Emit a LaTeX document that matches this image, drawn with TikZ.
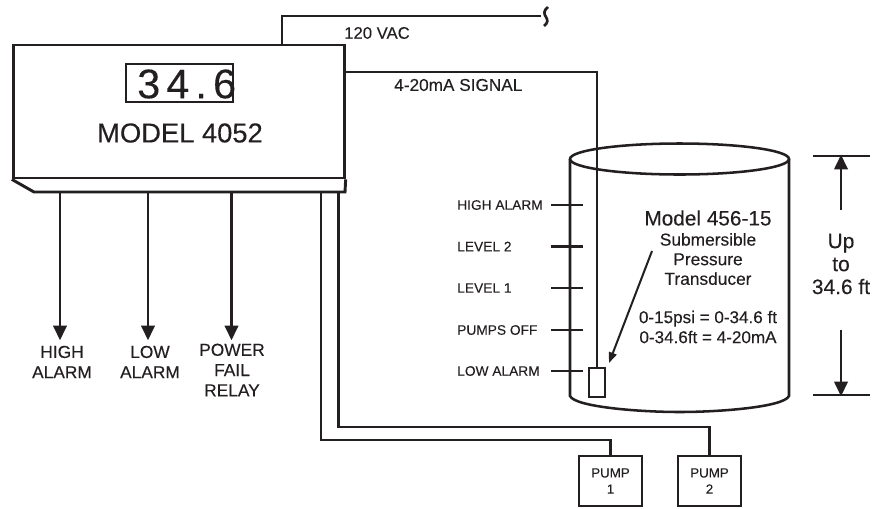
\documentclass[tikz,border=0pt]{standalone}
\usepackage{fontspec}
\setmainfont[FakeBold=0.2]{Liberation Sans}
\usetikzlibrary{arrows.meta}
\definecolor{ink}{HTML}{231F20}
\tikzset{
 wire/.style={ink,line width=1.9pt},
 heavy/.style={ink,line width=2.2pt},
 arrowed/.style={ink,line width=1.9pt,-{Triangle[length=11pt,width=10pt]},shorten >=-1pt},
 block/.style={draw=ink,line width=2.1pt,inner sep=0pt},
 lab/.style={ink,inner sep=0pt,align=center},
 small/.style={lab,font=\fontsize{10.3}{12}\selectfont},
 relay/.style={lab,font=\fontsize{13}{15.2}\selectfont},
}
\begin{document}
\begin{tikzpicture}[x=0.75pt,y=-0.75pt]
 \useasboundingbox (0,0) rectangle (873,508);
 % power and signal lines (behind the box)
 \coordinate (breakend) at (541,16);
 \node[block,minimum width=248.25pt,minimum height=99.75pt] (box) at (178.75,111.5) {};
 \draw[wire] (box.north -| 282,0) -- (282,16) -- (breakend);
 \draw[ink,line width=2pt] (548,7) .. controls (543,11) and (544,14) .. (546,17) .. controls (548,20) and (548,23) .. (544,26);
 \node[lab,font=\fontsize{12.5}{14}\selectfont,anchor=west] (vac) at (344,33) {120 VAC};
 % model 4052
 \coordinate (lipl) at (34,192);
 \coordinate (lipr) at (345,192);
 \draw[heavy,line join=miter] (box.south west) -- (lipl) -- (lipr) -- (box.south east);
 \node[block,minimum width=80.25pt,minimum height=28.5pt] (display) at (179.5,83) {};
 \node[lab,font=\fontsize{31}{34}\selectfont,anchor=west] (reading) at (137,84) {3\kern4.6pt 4\kern4.6pt .\kern4.6pt 6};
 \node[lab,font=\fontsize{20.5}{24}\selectfont] (model) at (180,133) {MODEL 4052};
 % tank
 \coordinate (tl) at (570,159);
 \coordinate (tr) at (789,159);
 \coordinate (bl) at (570,396);
 \coordinate (br) at (789,396);
 \draw[wire] (679.5,159) ellipse (109.5 and 15.5);
 \draw[wire] (tl) -- (bl) .. controls (575,407) and (640,412) .. (679.5,412) .. controls (720,412) and (784,407) .. (br) -- (tr);
 % transducer with its signal line
 \node[block,line width=1.7pt,fill=white,minimum width=12pt,minimum height=21.75pt] (sensor) at (597,382.5) {};
 \draw[wire] (box.east |- 0,72) -- (597,72) -- (sensor.north);
 \node[lab,font=\fontsize{12.9}{14}\selectfont,anchor=west] (signal) at (394,85) {4-20mA SIGNAL};
 % level marks
 \foreach \name/\yy/\txt in {high/205/HIGH ALARM,two/246.5/LEVEL 2,one/288/LEVEL 1,off/330/PUMPS OFF,low/371/LOW ALARM}{
  \node[small,anchor=west] (\name) at (457,\yy) {\txt};
  \draw[heavy] (551,\yy) -- (583,\yy);
 }
 % texts in the tank
 \node[lab,font=\fontsize{15.6}{18}\selectfont] (m456) at (708,218) {Model 456-15};
 \node[lab,font=\fontsize{13}{14.7}\selectfont] (subm) at (708,259) {Submersible\\Pressure\\Transducer};
 \node[lab,font=\fontsize{12.8}{15}\selectfont] (range) at (708,327) {0-15psi = 0-34.6 ft\\0-34.6ft = 4-20mA};
 \coordinate (ptr) at (652,251);
 \draw[ink,line width=1.5pt,-{Triangle[length=8pt,width=6pt]}] (ptr) -- (609,363);
 % height at the right
 \coordinate (dimt) at (841,156);
 \coordinate (dimb) at (841,395);
 \draw[heavy] (813,156) -- (870,156);
 \draw[heavy] (813,395) -- (870,395);
 \draw[arrowed] (841,210) -- (dimt);
 \draw[arrowed] (841,330) -- (dimb);
 \node[lab,font=\fontsize{15.7}{17.2}\selectfont] (upto) at (841,264) {Up\\to\\34.6 ft};
 % relay outputs
 \foreach \name/\xx/\tx/\yy/\txt in {hi/60/62/362/{HIGH\\ALARM},lo/148/150/362/{LOW\\ALARM},pf/231.5/232/370/{POWER\\FAIL\\RELAY}}{
  \node[relay] (\name) at (\tx,\yy) {\txt};
  \draw[arrowed] (\xx,192) -- (\xx,339);
 }
 % pumps
 \node[block,minimum width=47.25pt,minimum height=37.5pt,font=\fontsize{10}{12.2}\selectfont,align=center,text=ink] (pump1) at (610.5,481) {PUMP\\1};
 \node[block,minimum width=47.25pt,minimum height=37.5pt,font=\fontsize{10}{12.2}\selectfont,align=center,text=ink] (pump2) at (709.5,481) {PUMP\\2};
 \draw[wire] (321,192) -- (321,440) -| (pump1.north);
 \draw[wire] (338.5,192) -- (338.5,427) -| (pump2.north);
\end{tikzpicture}
\end{document}
